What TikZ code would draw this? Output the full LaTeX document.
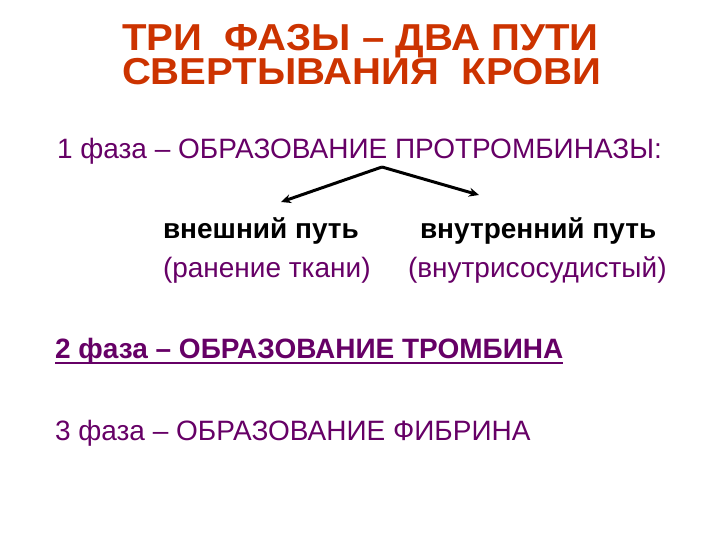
\documentclass[tikz,border=0pt]{standalone}
\usepackage{graphicx}
\usepackage{fontspec}
\setmainfont{Liberation Sans}
\usetikzlibrary{arrows.meta}
\definecolor{titlered}{HTML}{CC3300}
\definecolor{plum}{HTML}{660066}
\newcommand{\ttlwide}[1]{\scalebox{1.07}[1]{#1}}
\tikzset{
  txt/.style={anchor=base west, inner sep=0pt, outer sep=0pt},
  ttl/.style={txt, text=titlered, font=\fontsize{37.5}{40}\selectfont\bfseries},
  body/.style={txt, text=plum, font=\fontsize{28}{32}\selectfont},
  bodyb/.style={txt, text=plum, font=\fontsize{28}{32}\selectfont\bfseries},
  path/.style={txt, text=black, font=\fontsize{28}{32}\selectfont\bfseries},
  branch/.style={line width=3pt, -{Stealth[length=10pt,width=9pt]}}
}
\begin{document}
\begin{tikzpicture}[x=1pt,y=-1pt]
\useasboundingbox (0,0) rectangle (720,540);
\node[ttl, text depth=0pt] (t1) at (122,51) {\ttlwide{ТРИ\ \ ФАЗЫ – ДВА ПУТИ}};
\node[ttl, text height=27pt] (t2) at (122,85) {\ttlwide{СВЕРТЫВАНИЯ\ \ КРОВИ}};
\node[body] (f1) at (57,159) {1 фаза – ОБРАЗОВАНИЕ ПРОТРОМБИНАЗЫ:};
\coordinate (apex) at (382,167);
\coordinate (ltip) at (281,202);
\coordinate (rtip) at (479,195);
\draw[branch] (apex) -- (ltip);
\draw[branch] (apex) -- (rtip);
\node[path] (ext) at (163,239) {внешний путь};
\node[path] (int) at (420,239) {внутренний путь};
\node[body] (extc) at (163,277) {(ранение ткани)};
\node[body] (intc) at (408,277) {(внутрисосудистый)};
\node[bodyb] (f2) at (55,358) {2 фаза – ОБРАЗОВАНИЕ ТРОМБИНА};
\draw[plum, line width=2pt] ([yshift=-5pt]f2.base west) -- ([yshift=-5pt]f2.base east);
\node[body] (f3) at (55,440) {3 фаза – ОБРАЗОВАНИЕ ФИБРИНА};
\end{tikzpicture}
\end{document}
